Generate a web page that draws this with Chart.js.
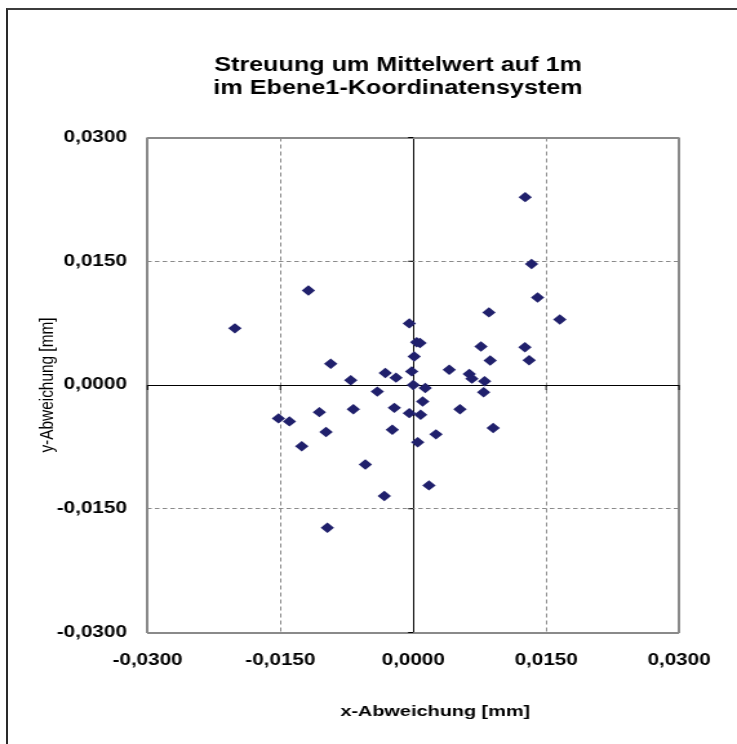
<!DOCTYPE html>
<html>
<head>
<meta charset="utf-8">
<script src="https://cdn.jsdelivr.net/npm/chart.js@4/dist/chart.umd.min.js"></script>
<style>
  html, body { margin: 0; padding: 0; background: #fff; overflow: hidden; }
  #frame { position: absolute; left: 6px; top: 8px; width: 760px; height: 760px;
           border-left: 2px solid #2a2a2a; border-top: 2px solid #3c3c3c; }
  /* the reference picture is stretched sideways, so the chart is too */
  #wrap { position: absolute; left: 0; top: 0; width: 571px; height: 744px;
          transform: scaleX(1.2907); transform-origin: 0 0; }
</style>
</head>
<body>
<div id="frame"></div>
<div id="wrap"><canvas id="chart"></canvas></div>
<script>
// deviations in mm
const xValues = [-0.01184, -0.02014, -0.00045, 0.00038, 0.00076, 0.00010, -0.00932, -0.00316,
  -0.00195, -0.00706, -0.00018, 0.00000, -0.00406, 0.01263, 0.01335, 0.01403, 0.00854, 0.01654,
  0.00764, 0.01260, 0.00868, 0.01308, 0.00406, 0.00632, 0.00662, 0.00805, 0.00135, 0.00794,
  -0.01522, -0.01398, -0.01060, -0.00677, -0.00214, -0.00045, -0.00985, -0.01259, -0.00237,
  -0.00541, -0.00327, -0.00970, 0.00106, 0.00050, 0.00083, 0.00527, 0.00902, 0.00256, 0.00177];
const yValues = [0.01145, 0.00687, 0.00747, 0.00518, 0.00510, 0.00346, 0.00258, 0.00145,
  0.00089, 0.00057, 0.00165, 0.00000, -0.00080, 0.02277, 0.01466, 0.01060, 0.00880, 0.00795,
  0.00466, 0.00458, 0.00298, 0.00301, 0.00185, 0.00133, 0.00077, 0.00045, -0.00036, -0.00088,
  -0.00405, -0.00441, -0.00329, -0.00293, -0.00277, -0.00341, -0.00570, -0.00742, -0.00542,
  -0.00964, -0.01345, -0.01730, -0.00200, -0.00694, -0.00361, -0.00293, -0.00522, -0.00598, -0.01217];

const xTickValues = [-0.03, -0.015, 0, 0.015, 0.03];
const yTickValues = [-0.03, -0.015, 0, 0.015, 0.03];

const chartTitle = ['Streuung um Mittelwert auf 1m', 'im Ebene1-Koordinatensystem'];
const xTitle = 'x-Abweichung [mm]';
const yTitle = 'y-Abweichung [mm]';

const FONT = '"Liberation Sans", Arial, sans-serif';

function fmt(v) {
    if (Math.abs(v) < 1e-9) v = 0;
    return v.toFixed(4).replace('.', ',');
}
const isZero = v => Math.abs(v) < 1e-9;
const isEdge = v => Math.abs(Math.abs(v) - 0.03) < 1e-9;

function gridColor(ctx) {
    if (!ctx.tick) return 'rgba(0,0,0,0)';
    return isZero(ctx.tick.value) ? '#000' : '#8a8a8a';
}
function gridWidth(ctx) {
    if (!ctx.tick) return 1;
    return isEdge(ctx.tick.value) ? 2 : 1;
}
function dashFor(pattern) {
    return function (ctx) {
        if (!ctx.tick) return [];
        const v = ctx.tick.value;
        return (isZero(v) || isEdge(v)) ? [] : pattern;
    };
}

// little tick marks on the two zero axes
const zeroTicks = {
    id: 'zeroTicks',
    beforeDatasetsDraw(chart) {
        const { ctx, scales: { x, y } } = chart;
        const x0 = x.getPixelForValue(0);
        const y0 = y.getPixelForValue(0);
        ctx.save();
        ctx.strokeStyle = '#000';
        ctx.lineWidth = 1;
        ctx.beginPath();
        xTickValues.forEach(v => {
            const px = x.getPixelForValue(v);
            ctx.moveTo(px, y0);
            ctx.lineTo(px, y0 + 5);
        });
        yTickValues.forEach(v => {
            const py = y.getPixelForValue(v);
            ctx.moveTo(x0 - 4, py);
            ctx.lineTo(x0, py);
        });
        ctx.stroke();
        ctx.restore();
    }
};

// x axis title sits a bit right of the plot centre in the original
const xAxisTitle = {
    id: 'xAxisTitle',
    afterDraw(chart) {
        const { ctx, chartArea } = chart;
        ctx.save();
        ctx.fillStyle = '#000';
        ctx.font = 'bold 15.4px ' + FONT;
        ctx.textAlign = 'center';
        ctx.textBaseline = 'middle';
        ctx.fillText(xTitle, (chartArea.left + chartArea.right) / 2 + 17, 712);
        ctx.restore();
    }
};

const points = xValues.map((x, i) => ({ x: x, y: yValues[i] }));

new Chart(document.getElementById('chart'), {
    type: 'scatter',
    data: {
        datasets: [{
            label: 'Streuung',
            data: points,
            pointStyle: 'rectRot',
            pointRadius: 5.2,
            pointHoverRadius: 5.2,
            backgroundColor: '#20206c',
            borderColor: '#20206c',
            borderWidth: 0
        }]
    },
    options: {
        responsive: true,
        maintainAspectRatio: false,
        animation: false,
        // negative right padding + spacer axis keeps the title centred like the original
        layout: { padding: { left: 0, right: -45.8, top: 0, bottom: 0 } },
        plugins: {
            legend: { display: false },
            tooltip: { enabled: false },
            title: {
                display: true,
                text: chartTitle,
                color: '#000',
                font: { family: FONT, size: 19.5, weight: 'bold', lineHeight: 1.18 },
                padding: { top: 54.5, bottom: 37 }
            }
        },
        scales: {
            x: {
                type: 'linear',
                position: 'bottom',
                min: -0.03,
                max: 0.03,
                afterBuildTicks: s => { s.ticks = xTickValues.map(v => ({ value: v })); },
                afterFit: s => { s.height = 111.5; },
                ticks: {
                    callback: v => fmt(v),
                    color: '#000',
                    font: { family: FONT, size: 16, weight: 'bold' },
                    padding: 18,
                    maxRotation: 0,
                    autoSkip: false
                },
                grid: { color: gridColor, lineWidth: gridWidth, drawTicks: false },
                border: { display: false, dash: dashFor([4, 3]) }
            },
            y: {
                type: 'linear',
                min: -0.03,
                max: 0.03,
                afterBuildTicks: s => { s.ticks = yTickValues.map(v => ({ value: v })); },
                afterFit: s => { s.width = 114.3; },
                ticks: {
                    callback: v => fmt(v),
                    color: '#000',
                    font: { family: FONT, size: 16, weight: 'bold' },
                    padding: 16,
                    autoSkip: false
                },
                grid: { color: gridColor, lineWidth: gridWidth, drawTicks: false },
                border: { display: false, dash: dashFor([3.5, 2.5]) },
                title: {
                    display: true,
                    text: yTitle,
                    color: '#000',
                    font: { family: FONT, size: 15.4 },
                    padding: { top: 27.2, bottom: 0 }
                }
            },
            spacer: {
                type: 'linear',
                position: 'right',
                afterFit: s => { s.width = 90.7; },
                ticks: { display: false },
                grid: { display: false, drawOnChartArea: false },
                border: { display: false }
            }
        }
    },
    plugins: [zeroTicks, xAxisTitle]
});
</script>
</body>
</html>
